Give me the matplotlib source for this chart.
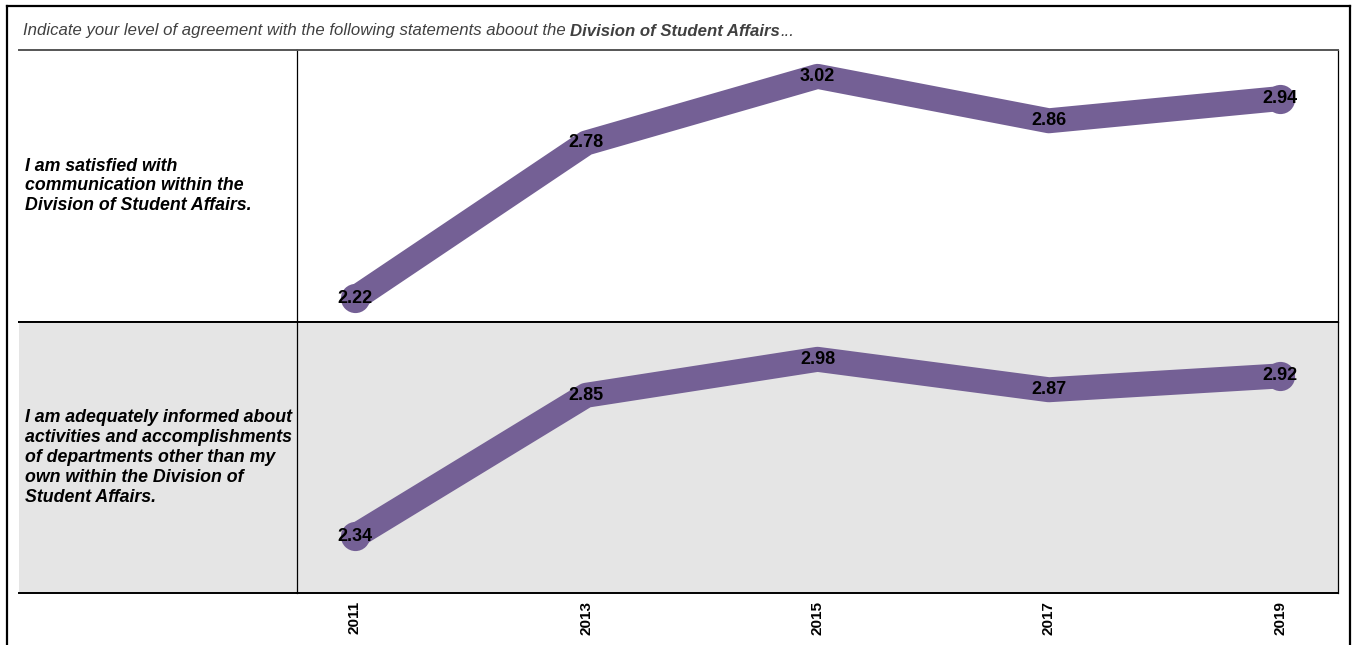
import matplotlib.pyplot as plt
from matplotlib.lines import Line2D

plt.rcParams['font.family'] = ['Liberation Sans', 'DejaVu Sans']

# data
years = [2011, 2013, 2015, 2017, 2019]
statements = [
    "I am satisfied with\ncommunication within the\nDivision of Student Affairs.",
    "I am adequately informed about\nactivities and accomplishments\nof departments other than my\nown within the Division of\nStudent Affairs.",
]
scores_communication = [2.22, 2.78, 3.02, 2.86, 2.94]
scores_informed = [2.34, 2.85, 2.98, 2.87, 2.92]
series = [scores_communication, scores_informed]

purple = '#746095'
grey_row = '#e5e5e5'
W, H = 1353, 645

fig = plt.figure(figsize=(W / 100, H / 100), dpi=100)


def fx(px):
    return px / W


def fy(py):
    return 1 - py / H


# outer frame (open at the bottom)
for xs, ys in [([7, 7], [6, 650]), ([7, 1350], [6, 6]), ([1350, 1350], [6, 650])]:
    fig.add_artist(Line2D([fx(v) for v in xs], [fy(v) for v in ys], color='black', lw=1.6))

# title built from three pieces (only the middle is bold)
tsize = 12.1
x_now = fx(23)
for piece, wt in [("Indicate your level of agreement with the following statements aboout the ", 'normal'),
                  ("Division of Student Affairs", 'bold'), ("...", 'normal')]:
    t = fig.text(x_now, fy(31), piece, fontsize=tsize, style='italic', weight=wt,
                 color='#404040', va='center', ha='left')
    fig.canvas.draw()
    x_now = t.get_window_extent().x1 / W

rows = [(50, 322), (322, 593)]
label_left, split, right = 19, 297, 1338
ymin, ymax = 2.135, 3.115

for i, ((top, bot), vals, text) in enumerate(zip(rows, series, statements)):
    bg = 'white' if i == 0 else grey_row
    # label cell
    lab = fig.add_axes([fx(label_left), fy(bot), fx(split - label_left), (bot - top) / H])
    lab.set_facecolor(bg)
    lab.set_xticks([])
    lab.set_yticks([])
    lab.spines['left'].set_visible(False)
    lab.spines['right'].set_visible(False)
    for s in ['top', 'bottom']:
        lab.spines[s].set_linewidth(1.4)
    lab.text(0.022, 0.5, text, transform=lab.transAxes, fontsize=12.8, style='italic',
             weight='bold', va='center', ha='left', linespacing=1.23)

    # chart cell
    ax = fig.add_axes([fx(split), fy(bot), fx(right - split), (bot - top) / H])
    ax.set_facecolor(bg)
    ax.plot(years, vals, color=purple, lw=18, solid_capstyle='round', solid_joinstyle='round',
            marker='o', markersize=21, markeredgewidth=0, markevery=[0, len(years) - 1], zorder=2)
    for x, v in zip(years, vals):
        ax.text(x, v, f"{v:.2f}", fontsize=13, weight='bold', ha='center', va='center', zorder=3)
    ax.set_xlim(2010.5, 2019.5)
    ax.set_ylim(ymin, ymax)
    ax.set_yticks([])
    for s in ['top', 'bottom']:
        ax.spines[s].set_linewidth(1.4)
    for s in ['left', 'right']:
        ax.spines[s].set_linewidth(0.9)
    if i == 0:
        ax.spines['top'].set_color('#555555')
        lab.spines['top'].set_color('#555555')
    ax.set_xticks(years)
    if i == len(rows) - 1:
        ax.set_xticklabels([str(y) for y in years], rotation=90, fontsize=11, weight='bold')
        ax.tick_params(axis='x', length=0, pad=6)
    else:
        ax.set_xticklabels([])
        ax.tick_params(axis='x', length=0)

fig.savefig('out.png', dpi=100)
